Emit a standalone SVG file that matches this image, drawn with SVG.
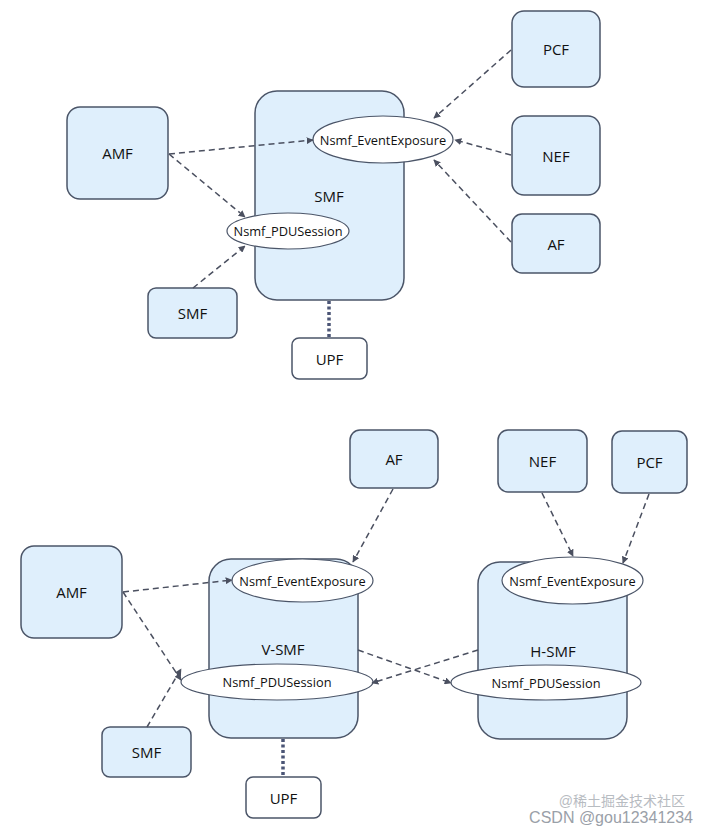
<svg xmlns="http://www.w3.org/2000/svg" width="708" height="832" viewBox="0 0 708 832">
<style>
.n{fill:#dfeffc;stroke:#4b5568;stroke-width:1.5}
.w{fill:#ffffff;stroke:#4b5568;stroke-width:1.5}
.e{fill:#ffffff;stroke:#4b5568;stroke-width:1.2}
.t{font-family:"Open Sans","Liberation Sans",sans-serif;font-size:15px;fill:#111;text-anchor:middle;dominant-baseline:central}
.s{font-family:"Open Sans","Liberation Sans",sans-serif;font-size:12.8px;fill:#111;text-anchor:middle;dominant-baseline:central}
.c{fill:none;stroke:#4b5060;stroke-width:1.5;stroke-dasharray:6 4;marker-end:url(#a)}
.d{fill:none;stroke:#4b5576;stroke-width:3.5;stroke-dasharray:3 2.5}
.wm{font-family:"Liberation Sans","Noto Sans CJK SC",sans-serif;fill:#9aa0a8}
</style>
<defs>
<marker id="a" viewBox="0 0 10 10" refX="9" refY="5" markerWidth="7" markerHeight="7" markerUnits="userSpaceOnUse" orient="auto">
<path d="M0,0 L10,5 L0,10 Z" fill="#4b5060"/>
</marker>
</defs>
<rect width="708" height="832" fill="#ffffff"/>

<g id="top-smf">
<rect class="n" x="255" y="91" width="149" height="209" rx="22"/>
<text class="t" x="329" y="196">SMF</text>
</g>
<g id="top-ee">
<ellipse class="e" cx="383" cy="139.5" rx="70" ry="23.5"/>
<text class="s" x="383" y="139.5">Nsmf_EventExposure</text>
</g>
<g id="top-pdu">
<ellipse class="e" cx="288" cy="231" rx="61" ry="18"/>
<text class="s" x="288" y="231">Nsmf_PDUSession</text>
</g>
<g id="top-amf">
<rect class="n" x="67" y="107" width="101" height="92" rx="13"/>
<text class="t" x="117.5" y="153">AMF</text>
</g>
<g id="top-smf2">
<rect class="n" x="148" y="288" width="89" height="50" rx="8"/>
<text class="t" x="192.5" y="313">SMF</text>
</g>
<g id="top-upf">
<rect class="w" x="292" y="338" width="75" height="41" rx="7"/>
<text class="t" x="329.5" y="358.5">UPF</text>
</g>
<g id="top-pcf">
<rect class="n" x="512" y="11" width="88" height="76" rx="12"/>
<text class="t" x="556" y="49">PCF</text>
</g>
<g id="top-nef">
<rect class="n" x="512" y="116" width="88" height="79" rx="12"/>
<text class="t" x="556" y="155.5">NEF</text>
</g>
<g id="top-af">
<rect class="n" x="512" y="214" width="88" height="59" rx="10"/>
<text class="t" x="556" y="243.5">AF</text>
</g>

<g id="bot-vsmf">
<rect class="n" x="209" y="559" width="149" height="179" rx="22"/>
<text class="t" x="283" y="649">V-SMF</text>
</g>
<g id="bot-v-ee">
<ellipse class="e" cx="302.5" cy="580.5" rx="70.5" ry="21.5"/>
<text class="s" x="302.5" y="580.5">Nsmf_EventExposure</text>
</g>
<g id="bot-v-pdu">
<ellipse class="e" cx="277" cy="682" rx="96" ry="18"/>
<text class="s" x="277" y="682">Nsmf_PDUSession</text>
</g>
<g id="bot-hsmf">
<rect class="n" x="478" y="562" width="149" height="177" rx="22"/>
<text class="t" x="553" y="651">H-SMF</text>
</g>
<g id="bot-h-ee">
<ellipse class="e" cx="572.5" cy="580.5" rx="70.5" ry="23.5"/>
<text class="s" x="572.5" y="580.5">Nsmf_EventExposure</text>
</g>
<g id="bot-h-pdu">
<ellipse class="e" cx="546" cy="682.5" rx="95" ry="17.5"/>
<text class="s" x="546" y="682.5">Nsmf_PDUSession</text>
</g>
<g id="bot-amf">
<rect class="n" x="21" y="546" width="101" height="92" rx="13"/>
<text class="t" x="71.5" y="592">AMF</text>
</g>
<g id="bot-smf">
<rect class="n" x="102" y="727" width="89" height="50" rx="8"/>
<text class="t" x="146.5" y="752">SMF</text>
</g>
<g id="bot-upf">
<rect class="w" x="246" y="777" width="75" height="41" rx="7"/>
<text class="t" x="283.5" y="797.5">UPF</text>
</g>
<g id="bot-af">
<rect class="n" x="350" y="430" width="88" height="58" rx="10"/>
<text class="t" x="394" y="459">AF</text>
</g>
<g id="bot-nef">
<rect class="n" x="498" y="430" width="89" height="62" rx="10"/>
<text class="t" x="542.5" y="461">NEF</text>
</g>
<g id="bot-pcf">
<rect class="n" x="612" y="431" width="75" height="62" rx="10"/>
<text class="t" x="649.5" y="462">PCF</text>
</g>

<g id="connectors">
<path class="c" d="M169,154 L313,140"/>
<path class="c" d="M169,154 L245,217"/>
<path class="c" d="M193,288 L245,246"/>
<path class="c" d="M511,50 L434,118"/>
<path class="c" d="M511,155 L455,140"/>
<path class="c" d="M511,242 L434,160"/>
<path class="d" d="M329,301 L329,338"/>

<path class="c" d="M123,592 L232,580"/>
<path class="c" d="M123,592 L181,680"/>
<path class="c" d="M147,727 L181,669"/>
<path class="c" d="M393,489 L353,562"/>
<path class="c" d="M542,493 L573,556"/>
<path class="c" d="M649,494 L623,563"/>
<path class="c" d="M358,650 L451,683"/>
<path class="c" d="M478,650 L372,683"/>
<path class="d" d="M283,739 L283,777"/>
</g>

<text class="wm" x="685" y="806" font-size="14" text-anchor="end" opacity="0.7">@稀土掘金技术社区</text>
<text class="wm" x="693" y="823" font-size="16" text-anchor="end">CSDN @gou12341234</text>
</svg>
